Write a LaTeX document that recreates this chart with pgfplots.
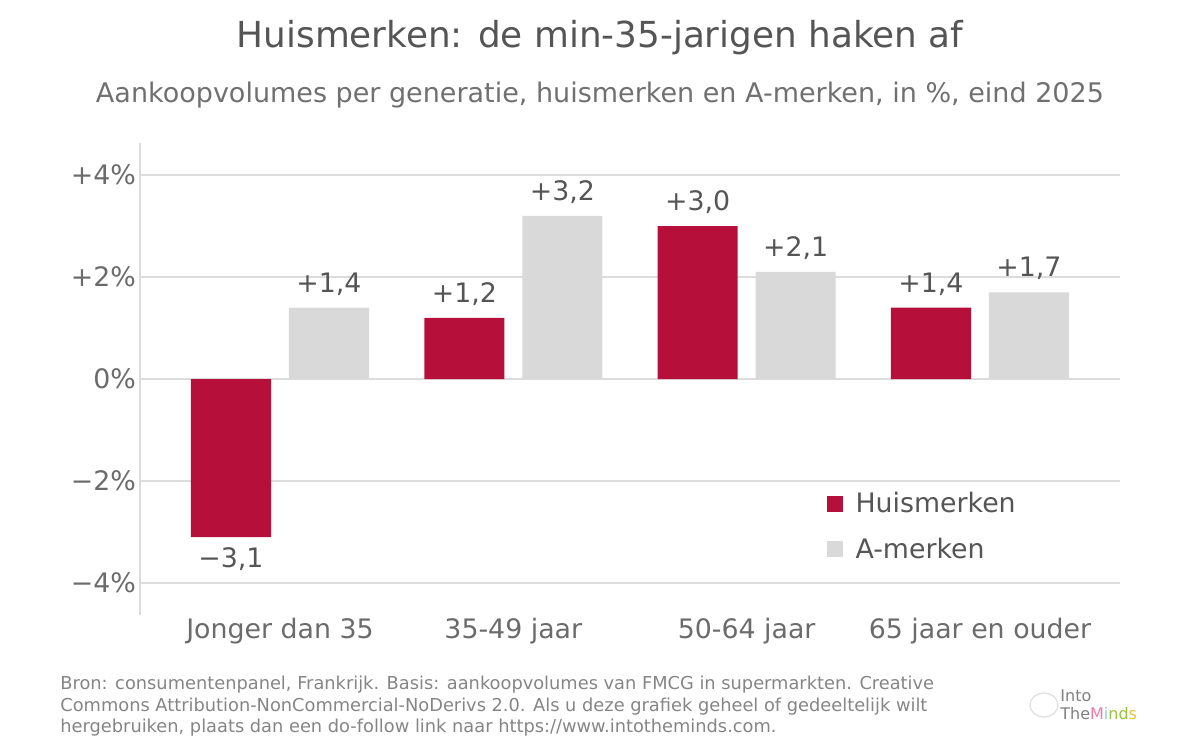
\documentclass[border=0pt]{standalone}
\usepackage{pgfplots}
\pgfplotsset{compat=1.18}
\usepackage{fontspec}
\setmainfont{DejaVu Sans}
\definecolor{hm}{HTML}{B50F3A}
\definecolor{am}{HTML}{D9D9D9}
\definecolor{ctitle}{HTML}{555555}
\definecolor{csub}{HTML}{707070}
\definecolor{ctick}{HTML}{6B6B6B}
\definecolor{cgrid}{HTML}{DCDCDC}
\definecolor{cfoot}{HTML}{858585}
\begin{document}
\begin{tikzpicture}[x=1pt,y=1pt]
\path[use as bounding box] (0,0) rectangle (600,377.5);
\node[font=\fontsize{17.9}{21}\selectfont, text=ctitle] at (300,358.5) {Huismerken: de min-35-jarigen haken af};
\node[font=\fontsize{13.5}{16}\selectfont, text=csub] at (300,330) {Aankoopvolumes per generatie, huismerken en A-merken, in \%, eind 2025};
\begin{axis}[
  at={(70pt,70pt)}, anchor=south west, scale only axis,
  width=490pt, height=236pt,
  ybar,
  xmin=-0.6, xmax=3.6, ymin=-4.63, ymax=4.63,
  axis x line*=bottom, axis y line*=left,
  x axis line style={draw=none},
  y axis line style={draw=cgrid, line width=0.8pt},
  major tick length=0pt,
  ytick={-4,-2,0,2,4},
  yticklabels={−4\%,−2\%,0\%,+2\%,+4\%},
  xtick={0,1,2,3},
  xticklabels={Jonger dan 35,35-49 jaar,50-64 jaar,65 jaar en ouder},
  ymajorgrids, grid style={cgrid, line width=0.8pt},
  tick label style={font=\fontsize{13.4}{16}\selectfont, text=ctick},
  yticklabel style={xshift=1.5pt},
  xticklabel style={yshift=2pt},
  nodes near coords,
  point meta=explicit symbolic,
  visualization depends on={y \as \rawy},
  legend style={draw=none, fill=none, at={(0.694,0.269)}, anchor=north west,
    font=\fontsize{13.4}{16}\selectfont, text=ctitle, row sep=11pt, legend cell align=left,
    nodes={inner sep=0pt}},
  legend image code/.code={\fill[#1] (0pt,-4pt) rectangle (8pt,4pt); \path (14.5pt,0pt);},
]
\pgfplotsset{every node near coord/.append style={font=\fontsize{13.4}{16}\selectfont, text=ctitle, inner sep=4.5pt,
  /utils/exec={\ifdim\rawy pt<0pt \gdef\myanc{north}\gdef\mysh{-0.6pt}\else\gdef\myanc{south}\gdef\mysh{1.5pt}\fi},
  anchor=\myanc, yshift=\mysh}}
\addplot[bar width=0.343, bar shift=-0.21, fill=hm, draw=none]
  coordinates {(0,-3.1) [−3,1] (1,1.2) [+1,2] (2,3.0) [+3,0] (3,1.4) [+1,4]};
\addlegendentry{Huismerken}
\addplot[bar width=0.343, bar shift=0.21, fill=am, draw=none]
  coordinates {(0,1.4) [+1,4] (1,3.2) [+3,2] (2,2.1) [+2,1] (3,1.7) [+1,7]};
\addlegendentry{A-merken}
\end{axis}
\begin{scope}[every node/.style={anchor=west, inner sep=0pt, font=\fontsize{8.9}{10}\selectfont, text=cfoot}]
\node at (30,35) {Bron: consumentenpanel, Frankrijk. Basis: aankoopvolumes van FMCG in supermarkten. Creative};
\node at (30,24.2) {Commons Attribution-NonCommercial-NoDerivs 2.0. Als u deze grafiek geheel of gedeeltelijk wilt};
\node at (30,13.5) {hergebruiken, plaats dan een do-follow link naar https://www.intotheminds.com.};
\end{scope}
\draw[color=gray!25, line width=0.6pt] (522,25) ellipse (7pt and 6pt);
\begin{scope}[every node/.style={anchor=west, inner sep=0pt, font=\fontsize{8}{9}\selectfont}]
\node[text=gray] at (530,29.5) {Into};
\node at (530,20.5) {\textcolor{gray}{The}\textcolor[HTML]{E87BA8}{M}\textcolor[HTML]{8FC9E8}{i}\textcolor[HTML]{9BC23C}{n}\textcolor[HTML]{9BC23C}{d}\textcolor[HTML]{E8C23C}{s}};
\end{scope}
\end{tikzpicture}
\end{document}
